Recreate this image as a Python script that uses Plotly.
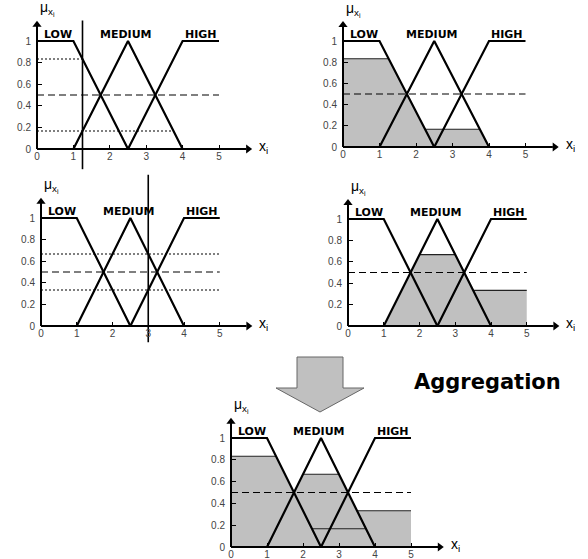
import plotly.graph_objects as go

# ---------------- data ----------------
mf_names = ["LOW", "MEDIUM", "HIGH"]
low_x = [0, 1, 2.5]
low_y = [1, 1, 0]
med_x = [1, 2.5, 4]
med_y = [0, 1, 0]
high_x = [2.5, 4, 5]
high_y = [0, 1, 1]

x_ticks = [0, 1, 2, 3, 4, 5]
x_tick_text = ["0", "1", "2", "3", "4", "5"]
y_ticks = [0, 0.2, 0.4, 0.6, 0.8, 1]
y_tick_text = ["0", "0.2", "0.4", "0.6", "0.8", "1"]

threshold = 0.5
input_1 = 1.25          # crisp input, first rule panel
input_2 = 3.0           # crisp input, second rule panel
deg_1 = [0.833, 0.167]  # LOW, MEDIUM degrees at input_1
deg_1_end = [1.25, 3.7]  # where the dotted guides stop
deg_2 = [0.667, 0.333]  # MEDIUM, HIGH degrees at input_2
deg_2_end = [5, 5]

# clipped (implicated) membership shapes
low_cut_x = [0, 0, 1.25, 2.5]
low_cut_y = [0, 0.833, 0.833, 0]
med_cut1_x = [1, 1.25, 3.75, 4]
med_cut1_y = [0, 0.167, 0.167, 0]
med_cut2_x = [1, 2, 3, 4]
med_cut2_y = [0, 0.667, 0.667, 0]
high_cut_x = [2.5, 3, 5, 5]
high_cut_y = [0, 0.333, 0.333, 0]
# visible flat tops of the clipped shapes
low_top_x = [0, 1.25]
low_top_y = [0.833, 0.833]
med1_top_x = [2.25, 3.75]
med1_top_y = [0.167, 0.167]
med2_top_x = [2, 3]
med2_top_y = [0.667, 0.667]
high_top_x = [3.5, 5]
high_top_y = [0.333, 0.333]

# ---------------- layout geometry ----------------
W, H = 588, 559
panels = [
    dict(x0=37, sx=36.4, y0=149, sy=108, yr=[-0.25, 1.35]),
    dict(x0=343, sx=36.5, y0=147, sy=106, yr=[-0.25, 1.35]),
    dict(x0=41, sx=35.75, y0=326, sy=108, yr=[-0.25, 1.45]),
    dict(x0=348, sx=35.75, y0=326, sy=107, yr=[-0.25, 1.45]),
    dict(x0=231, sx=36, y0=547, sy=109, yr=[-0.06, 1.35]),
]
XR = [-0.2, 6.6]
label_x = [0.58, 2.45, 4.5]

GRAY = "#c0c0c0"
TICKFONT = dict(family="Liberation Sans, Arial", size=10, color="#444")
LABELFONT = dict(family="DejaVu Sans", size=11, color="black", weight="bold")


def px(xp):
    return xp / W


def py(yp):
    return 1 - yp / H


fig = go.Figure()
annotations = []


def refs(i):
    s = "" if i == 0 else str(i + 1)
    return "x" + s, "y" + s


def add(i, **kw):
    xr, yr = refs(i)
    kw.setdefault("mode", "lines")
    kw.setdefault("hoverinfo", "skip")
    kw.setdefault("showlegend", False)
    fig.add_trace(go.Scatter(xaxis=xr, yaxis=yr, **kw))


def fill_shape(i, xs, ys):
    add(i, x=xs, y=ys, fill="toself", fillcolor=GRAY, line=dict(width=0))


def edge(i, xs, ys):
    add(i, x=xs, y=ys, line=dict(color="#222", width=1.1))


def hline(i, y, x_end, dash):
    add(i, x=[0, x_end], y=[y, y], line=dict(color="black", width=1.1, dash=dash))


for i, p in enumerate(panels):
    s = "" if i == 0 else str(i + 1)
    ymin, ymax = p["yr"]
    fig.layout["xaxis" + s] = dict(
        domain=[px(p["x0"] + p["sx"] * XR[0]), px(p["x0"] + p["sx"] * XR[1])],
        range=XR, anchor="free", position=py(p["y0"]),
        showgrid=False, zeroline=False, showline=False, automargin=False,
        tickmode="array", tickvals=x_ticks, ticktext=x_tick_text,
        ticks="inside", ticklen=4, tickwidth=1, tickcolor="black",
        tickfont=TICKFONT, fixedrange=True,
    )
    fig.layout["yaxis" + s] = dict(
        domain=[py(p["y0"] - p["sy"] * ymin), py(p["y0"] - p["sy"] * ymax)],
        range=[ymin, ymax], anchor="free", position=px(p["x0"]),
        showgrid=False, zeroline=False, showline=False, automargin=False,
        tickmode="array", tickvals=y_ticks, ticktext=y_tick_text,
        ticks="inside", ticklen=4, tickwidth=1, tickcolor="black",
        tickfont=TICKFONT, ticklabelstandoff=6, fixedrange=True,
    )

# ---- shaded implicated shapes ----
fill_shape(1, low_cut_x, low_cut_y)
fill_shape(1, med_cut1_x, med_cut1_y)
edge(1, low_top_x, low_top_y)
edge(1, med1_top_x, med1_top_y)

fill_shape(3, med_cut2_x, med_cut2_y)
fill_shape(3, high_cut_x, high_cut_y)
edge(3, med2_top_x, med2_top_y)
edge(3, high_top_x, high_top_y)

for xs, ys in [(low_cut_x, low_cut_y), (med_cut1_x, med_cut1_y),
               (med_cut2_x, med_cut2_y), (high_cut_x, high_cut_y)]:
    fill_shape(4, xs, ys)
edge(4, low_top_x, low_top_y)
edge(4, med1_top_x, med1_top_y)
edge(4, med2_top_x, med2_top_y)
edge(4, high_top_x, high_top_y)

# ---- guide lines ----
for i in range(5):
    hline(i, threshold, 5, "7px,4px")
for y, xe in zip(deg_1, deg_1_end):
    hline(0, y, xe, "2px,2px")
for y, xe in zip(deg_2, deg_2_end):
    hline(2, y, xe, "2px,2px")

# ---- crisp input lines ----
add(0, x=[input_1, input_1], y=[-0.19, 1.19], line=dict(color="black", width=1.6))
add(2, x=[input_2, input_2], y=[-0.15, 1.40], line=dict(color="black", width=1.6))

# ---- membership functions, axes, labels ----
for i in range(5):
    for xs, ys in [(low_x, low_y), (med_x, med_y), (high_x, high_y)]:
        add(i, x=xs, y=ys, line=dict(color="black", width=2.2))
    # axes with arrows
    add(i, x=[0, 0], y=[0, 1.15], line=dict(color="black", width=2))
    add(i, x=[0, 5.75], y=[0, 0], line=dict(color="black", width=2))
    add(i, x=[0], y=[1.15], mode="markers", cliponaxis=False,
        marker=dict(symbol="triangle-up", size=8, color="black"))
    add(i, x=[5.8], y=[0], mode="markers", cliponaxis=False,
        marker=dict(symbol="triangle-right", size=8, color="black"))
    xr, yr = refs(i)
    for name, lx in zip(mf_names, label_x):
        annotations.append(dict(xref=xr, yref=yr, x=lx, y=1.0, text=name,
                                showarrow=False, yanchor="bottom", xanchor="center",
                                font=LABELFONT, yshift=-2))
    annotations.append(dict(xref=xr, yref=yr, x=0.02, y=1.19, text="μ<sub>x<sub>i</sub></sub>",
                            showarrow=False, xanchor="left", yanchor="bottom",
                            font=dict(family="Liberation Sans, Arial", size=14, color="black")))
    annotations.append(dict(xref=xr, yref=yr, x=6.05, y=0.02, text="x<sub>i</sub>",
                            showarrow=False, xanchor="left", yanchor="middle",
                            font=dict(family="Liberation Sans, Arial", size=14, color="black")))

# ---- aggregation arrow and title ----
arrow_px = [(297, 357), (343, 357), (343, 388), (364, 388), (320, 412),
            (276, 388), (297, 388)]
path = "M " + " L ".join(f"{px(a)},{py(b)}" for a, b in arrow_px) + " Z"
fig.add_shape(type="path", xref="paper", yref="paper", path=path,
              fillcolor=GRAY, line=dict(color="#666", width=1))
annotations.append(dict(xref="paper", yref="paper", x=px(487), y=py(382), text="Aggregation",
                        showarrow=False, xanchor="center", yanchor="middle",
                        font=dict(family="DejaVu Sans", size=21, color="black", weight="bold")))

fig.update_layout(
    width=W, height=H, margin=dict(l=0, r=0, t=0, b=0, autoexpand=False),
    paper_bgcolor="white", plot_bgcolor="white",
    annotations=annotations, showlegend=False,
)

fig.write_html("out.html", config={"displayModeBar": False},
               post_script="document.body.style.margin='0px';")
